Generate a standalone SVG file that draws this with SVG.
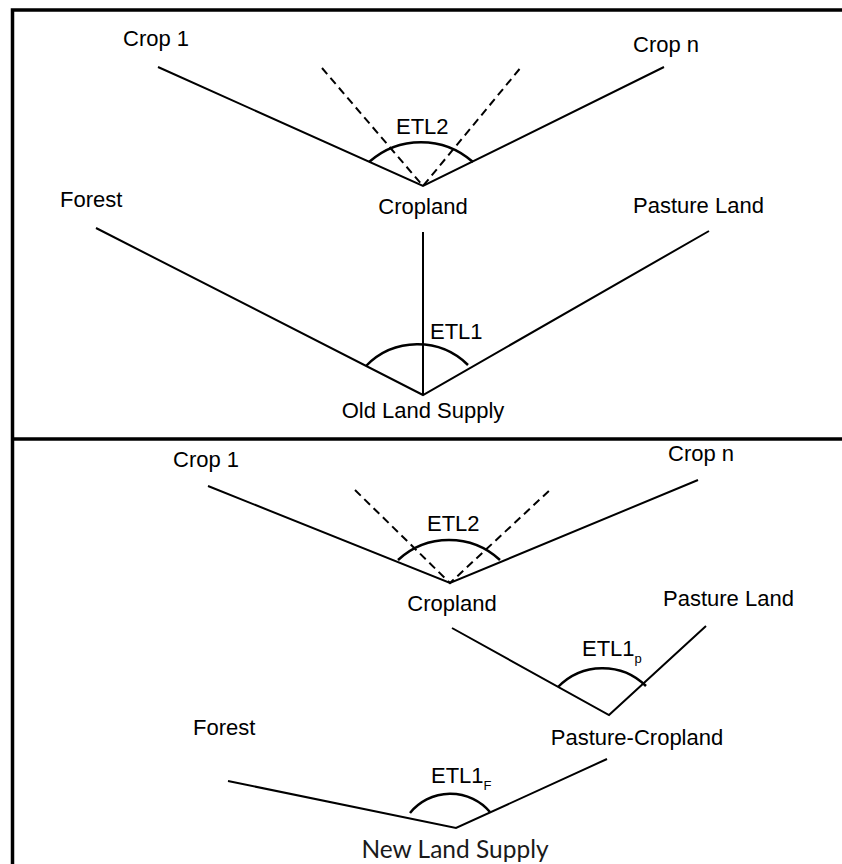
<svg xmlns="http://www.w3.org/2000/svg" width="842" height="864" viewBox="0 0 842 864">
<style>
.t{font-family:"Liberation Sans",Arial,sans-serif;font-size:22px;fill:#000}
.s{font-size:13px}
.n{font-family:"Lato","Open Sans",sans-serif;font-size:24.5px;fill:#1a1a1a}
.l{stroke:#000;stroke-width:2;fill:none}
.d{stroke:#000;stroke-width:2;fill:none;stroke-dasharray:8,5}
.a{stroke:#000;stroke-width:2.5;fill:none}
.b{stroke:#000;stroke-width:3.5;fill:none}
</style>
<rect width="842" height="864" fill="#fff"/>
<g id="frame">
<path class="b" d="M12.5 864 V10 H842"/>
<path class="b" d="M12.5 439 H842"/>
</g>
<g id="connectors">
<path class="l" d="M158 67 L423 186 L664 67"/>
<path class="d" d="M322 68 L423 186 L522 66"/>
<path class="a" d="M369 162 A78 78 0 0 1 473 162"/>
<path class="l" d="M96 228 L423 395 L709 231"/>
<path class="l" d="M423 232 V395"/>
<path class="a" d="M366 366 A72 72 0 0 1 468 365"/>
<path class="l" d="M208 486 L450 583 L698 480"/>
<path class="d" d="M355 490 L450 583 L551 489"/>
<path class="a" d="M398 560 A75 75 0 0 1 500 560"/>
<path class="l" d="M452 628 L609 715 L706 626"/>
<path class="a" d="M558 687 A62 62 0 0 1 646 686"/>
<path class="l" d="M228 781 L456 828 L607 759"/>
<path class="a" d="M410 813 A52 52 0 0 1 490 812"/>
</g>
<g id="crop1-top"><text class="t" x="123" y="46">Crop 1</text></g>
<g id="cropn-top"><text class="t" x="633" y="52">Crop n</text></g>
<g id="etl2-top"><text class="t" x="396" y="134">ETL2</text></g>
<g id="cropland-top"><text class="t" x="423" y="214" text-anchor="middle">Cropland</text></g>
<g id="forest-top"><text class="t" x="60" y="207">Forest</text></g>
<g id="pasture-top"><text class="t" x="633" y="213">Pasture Land</text></g>
<g id="etl1-top"><text class="t" x="430" y="339">ETL1</text></g>
<g id="old-supply"><text class="t" x="423" y="418" text-anchor="middle">Old Land Supply</text></g>
<g id="crop1-bot"><text class="t" x="173" y="467">Crop 1</text></g>
<g id="cropn-bot"><text class="t" x="668" y="461">Crop n</text></g>
<g id="etl2-bot"><text class="t" x="427" y="531">ETL2</text></g>
<g id="cropland-bot"><text class="t" x="452" y="611" text-anchor="middle">Cropland</text></g>
<g id="pasture-bot"><text class="t" x="663" y="606">Pasture Land</text></g>
<g id="etl1p"><text class="t" x="582" y="656">ETL1<tspan class="s" dy="7">p</tspan></text></g>
<g id="pasture-cropland"><text class="t" x="637" y="745" text-anchor="middle">Pasture-Cropland</text></g>
<g id="forest-bot"><text class="t" x="193" y="735">Forest</text></g>
<g id="etl1f"><text class="t" x="431" y="783">ETL1<tspan class="s" dy="7">F</tspan></text></g>
<g id="new-supply"><text class="n" x="455" y="858" text-anchor="middle">New Land Supply</text></g>
</svg>
